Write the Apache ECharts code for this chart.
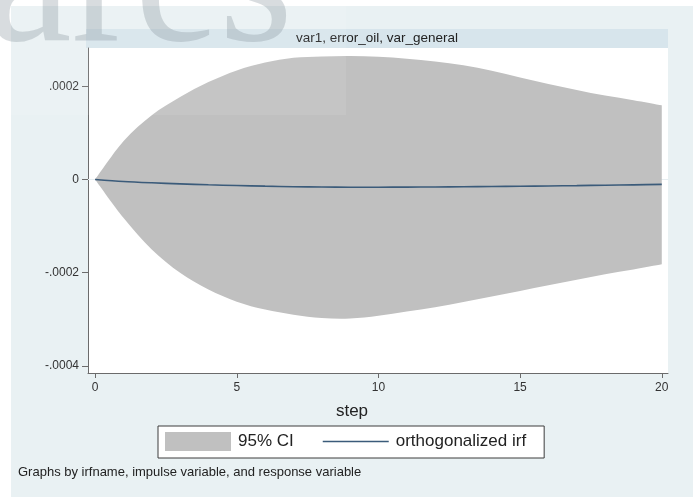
<!DOCTYPE html>
<html><head><meta charset="utf-8">
<script src="https://cdn.jsdelivr.net/npm/echarts@6/dist/echarts.min.js"></script>
<style>html,body{margin:0;padding:0;background:#fff}#c{width:698px;height:497px}</style>
</head><body><div id="c"></div>
<script>
// ---- data ----
const steps = [0,1,2,3,4,5,6,7,8,9,10,11,12,13,14,15,16,17,18,19,20];
const irf = [0,-0.0000043,-0.0000071,-0.0000093,-0.0000114,-0.0000129,-0.0000143,-0.0000155,-0.0000162,-0.0000165,-0.0000165,-0.0000163,-0.000016,-0.0000156,-0.0000151,-0.0000145,-0.0000138,-0.0000131,-0.0000123,-0.0000115,-0.0000105];
const ciUpper = [0,0.000082,0.000138,0.000177,0.000209,0.000234,0.000251,0.000261,0.000264,0.000265,0.000263,0.000259,0.000253,0.000245,0.000233,0.000219,0.000205,0.000192,0.00018,0.00017,0.000159];
const ciLower = [0,-0.000082,-0.00015,-0.0002,-0.000236,-0.000262,-0.000279,-0.00029,-0.000297,-0.000298,-0.000292,-0.000283,-0.000274,-0.000263,-0.000251,-0.000239,-0.000227,-0.000215,-0.000203,-0.000193,-0.000182];
const xTicks = [0,5,10,15,20];
const xTickLabels = ['0','5','10','15','20'];
const yTicks = [-0.0004,-0.0002,0,0.0002];
const yTickLabels = ['-.0004','-.0002','0','.0002'];
const panelTitle = 'var1, error_oil, var_general';
const xTitle = 'step';
const legendNames = ['95% CI','orthogonalized irf'];
const note = 'Graphs by irfname, impulse variable, and response variable';
const watermark = 'dares';

// ---- chart ----
const FONT = '"Liberation Sans", Arial, Helvetica, sans-serif';
const lookup = (ticks, labels) => v => {
  const i = ticks.findIndex(t => Math.abs(t - v) < 1e-12);
  return i >= 0 ? labels[i] : '';
};
const chart = echarts.init(document.getElementById('c'));
const axisColor = '#6b6b6b';
const bandColor = '#c0c0c0';
const lineColor = '#3b5b7a';
const lineIcon = 'path://M0,0 L0.01,0 L0,0 Z M0,8.7 L66,8.7 L66,10.3 L0,10.3 Z M0,19 L0.01,19 L0,19 Z';

// smooth path through screen points (Catmull-Rom as cubic Bezier), rendering only
function smoothSeg(pts, startWithMove) {
  let d = startWithMove ? 'M' + pts[0][0] + ',' + pts[0][1] : 'L' + pts[0][0] + ',' + pts[0][1];
  for (let i = 0; i < pts.length - 1; i++) {
    const p0 = pts[Math.max(i - 1, 0)], p1 = pts[i], p2 = pts[i + 1], p3 = pts[Math.min(i + 2, pts.length - 1)];
    const c1 = [p1[0] + (p2[0] - p0[0]) / 6, p1[1] + (p2[1] - p0[1]) / 6];
    const c2 = [p2[0] - (p3[0] - p1[0]) / 6, p2[1] - (p3[1] - p1[1]) / 6];
    d += 'C' + c1[0] + ',' + c1[1] + ' ' + c2[0] + ',' + c2[1] + ' ' + p2[0] + ',' + p2[1];
  }
  return d;
}

chart.setOption({
  animation: false,
  backgroundColor: '#ffffff',
  textStyle: { fontFamily: FONT },
  grid: { left: 88, right: 30, top: 48, bottom: 124, show: false },
  xAxis: {
    type: 'value', min: -0.25, max: 20.22,
    name: xTitle, nameLocation: 'middle', nameGap: 30,
    nameTextStyle: { fontSize: 17, color: '#222', fontFamily: FONT, padding: [0, 52, 0, 0] },
    axisLine: { show: true, onZero: false, lineStyle: { color: axisColor, width: 1 } },
    axisTick: { show: true, length: 5, customValues: xTicks, lineStyle: { color: axisColor } },
    axisLabel: { customValues: xTicks, margin: 9, fontSize: 12, color: '#333', fontFamily: FONT,
      formatter: lookup(xTicks, xTickLabels) },
    splitLine: { show: false }
  },
  yAxis: {
    type: 'value', min: -0.000415, max: 0.000282,
    axisLine: { show: true, onZero: false, lineStyle: { color: axisColor, width: 1 } },
    axisTick: { show: true, length: 6, customValues: yTicks, lineStyle: { color: axisColor } },
    axisLabel: { customValues: yTicks, margin: 9, fontSize: 12, color: '#333', fontFamily: FONT,
      formatter: lookup(yTicks, yTickLabels) },
    splitLine: { show: false }
  },
  legend: {
    left: 158, top: 426, orient: 'horizontal', selectedMode: false,
    data: [{ name: legendNames[0], icon: 'rect' }, { name: legendNames[1], icon: lineIcon }],
    itemWidth: 66, itemHeight: 19, itemGap: 29,
    padding: [6, 18, 7, 7],
    backgroundColor: '#ffffff', borderColor: '#3c3c3c', borderWidth: 1, borderRadius: 0,
    textStyle: { fontSize: 17, color: '#222', fontFamily: FONT, padding: [0, 0, 0, 2] }
  },
  graphic: [
    { type: 'rect', z: -10, silent: true, shape: { x: 11, y: 6, width: 682, height: 491 }, style: { fill: '#e9f1f3' } },
    { type: 'rect', z: -9, silent: true, shape: { x: 86, y: 29, width: 582, height: 19 }, style: { fill: '#d7e5ec' } },
    { type: 'rect', z: -8, silent: true, shape: { x: 88, y: 48, width: 580, height: 325 }, style: { fill: '#ffffff' } },
    { type: 'text', z: 5, silent: true, x: 377, y: 38.5,
      style: { text: panelTitle, fontSize: 13.5, fontFamily: FONT, fill: '#222', align: 'center', verticalAlign: 'middle' } },
    { type: 'text', z: 5, silent: true, x: 18, y: 472,
      style: { text: note, fontSize: 13, fontFamily: FONT, fill: '#222', align: 'left', verticalAlign: 'middle' } },
    { type: 'text', z: 100, silent: true, x: 293, y: -10,
      style: { text: watermark, fontSize: 190, fontFamily: '"Liberation Serif", "DejaVu Serif", serif',
        fill: 'rgba(115,128,138,0.3)', align: 'right', verticalAlign: 'middle' } },
    { type: 'rect', z: 100, silent: true, shape: { x: 0, y: 0, width: 346, height: 115 }, style: { fill: 'rgba(255,255,255,0.09)' } }
  ],
  series: [
    { name: 'gridlines', type: 'line', z: 1, silent: true, symbol: 'none',
      data: steps.map(s => [s, 0]), lineStyle: { opacity: 0 },
      markLine: { silent: true, z: 1, symbol: 'none', label: { show: false },
        lineStyle: { color: '#e7eef1', width: 1, type: 'solid' },
        data: yTicks.map(v => ({ yAxis: v })) } },
    { name: legendNames[0], type: 'custom', z: 2, silent: true,
      itemStyle: { color: bandColor },
      encode: { x: 0, y: [1, 2] },
      data: steps.map((s, i) => [s, ciLower[i], ciUpper[i]]),
      renderItem: (params, api) => {
        if (params.dataIndex !== 0) return null;
        const up = steps.map((s, i) => api.coord([s, ciUpper[i]]));
        const lo = steps.map((s, i) => api.coord([s, ciLower[i]])).reverse();
        const d = smoothSeg(up, true) + smoothSeg(lo, false) + 'Z';
        return { type: 'path', shape: { pathData: d }, style: { fill: bandColor } };
      } },
    { name: legendNames[1], type: 'line', z: 3, silent: true, symbol: 'none', smooth: 0.3,
      data: steps.map((s, i) => [s, irf[i]]),
      itemStyle: { color: lineColor }, lineStyle: { color: lineColor, width: 1.6 } }
  ]
});
</script>
</body></html>
